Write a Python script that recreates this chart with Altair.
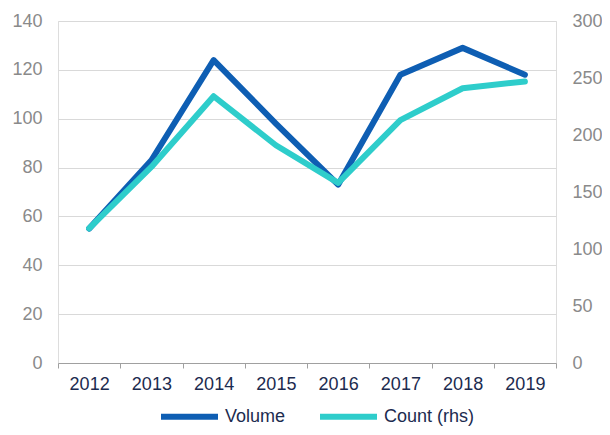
import altair as alt
import pandas as pd

years = ["2012", "2013", "2014", "2015", "2016", "2017", "2018", "2019"]
volume = [55, 83, 124, 98, 73, 118, 129, 118]
count = [118, 172, 234, 191, 158, 213, 241, 247]

df = pd.DataFrame({"year": years, "Volume": volume, "Count (rhs)": count})

FONT = "Liberation Sans"
GRAY = "#8a8a8a"
NAVY = "#1c2b4f"
BLUE = "#0e5eb3"
TEAL = "#2ecdcb"

color = alt.Color(
    "series:N",
    scale=alt.Scale(domain=["Volume", "Count (rhs)"], range=[BLUE, TEAL]),
    legend=alt.Legend(
        title=None,
        orient="none",
        legendX=100,
        legendY=364,
        direction="horizontal",
        symbolType="stroke",
        symbolStrokeWidth=6,
        symbolSize=3249,
        labelFont=FONT,
        labelFontSize=18,
        labelColor=NAVY,
        labelOffset=4,
        columnPadding=22,
        symbolOffset=0,
        padding=0,
    ),
)

x = alt.X(
    "year:O",
    bandPosition=0.5,
    scale=alt.Scale(type="band", paddingInner=0, paddingOuter=0),
    axis=alt.Axis(
        title=None,
        labelAngle=0,
        tickBand="extent",
        domainColor="#a0a0a0",
        tickColor="#a0a0a0",
        tickSize=5,
        labelFont=FONT,
        labelFontSize=18,
        labelColor=NAVY,
        labelPadding=7,
        grid=False,
    ),
)

base = alt.Chart(df).transform_fold(["Volume", "Count (rhs)"], as_=["series", "value"])

vol = base.transform_filter(alt.datum.series == "Volume").mark_line(
    strokeWidth=6, strokeCap="round", strokeJoin="round"
).encode(
    x=x,
    y=alt.Y(
        "value:Q",
        scale=alt.Scale(domain=[0, 140]),
        axis=alt.Axis(
            title=None,
            values=[0, 20, 40, 60, 80, 100, 120, 140],
            orient="left",
            domain=False,
            ticks=False,
            labelFont=FONT,
            labelFontSize=18,
            labelColor=GRAY,
            labelPadding=16,
            gridColor="#d9d9d9",
            gridWidth=1,
        ),
    ),
    color=color,
)

cnt = base.transform_filter(alt.datum.series == "Count (rhs)").mark_line(
    strokeWidth=6, strokeCap="round", strokeJoin="round"
).encode(
    x=x,
    y=alt.Y(
        "value:Q",
        scale=alt.Scale(domain=[0, 300]),
        axis=alt.Axis(
            title=None,
            values=[0, 50, 100, 150, 200, 250, 300],
            orient="right",
            domain=False,
            ticks=False,
            grid=False,
            labelFont=FONT,
            labelFontSize=18,
            labelColor=GRAY,
            labelPadding=16,
        ),
    ),
    color=color,
)

chart = (
    alt.layer(vol, cnt)
    .resolve_scale(y="independent")
    .properties(
        width=498,
        height=342,
        autosize=alt.AutoSizeParams(type="none"),
        padding={"left": 50, "top": 13, "right": 46, "bottom": 64},
    )
    .configure_view(strokeWidth=0)
    .configure(background="white")
)

chart.save("out.html", embed_options={"renderer": "svg", "actions": False})
